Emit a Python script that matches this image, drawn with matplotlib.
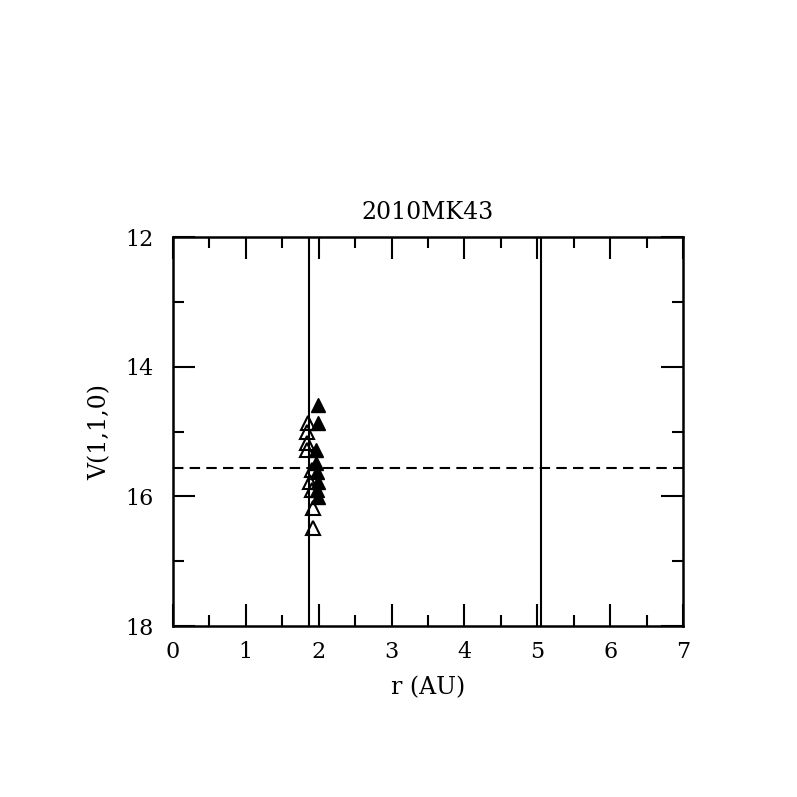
import matplotlib
matplotlib.use("Agg")
import matplotlib.pyplot as plt

title = "2010MK43"
xlabel = "r (AU)"
ylabel = "V(1,1,0)"

# open triangles
open_r = [1.85, 1.84, 1.84, 1.84, 1.91, 1.88, 1.91, 1.92, 1.92]
open_v = [14.87, 15.01, 15.18, 15.29, 15.60, 15.78, 15.90, 16.18, 16.48]
# filled triangles
fill_r = [1.99, 1.99, 1.96, 1.96, 1.97, 1.99, 1.97, 1.99]
fill_v = [14.59, 14.87, 15.29, 15.49, 15.63, 15.78, 15.90, 16.01]

vlines_r = [1.87, 5.05]
hline_v = 15.56

plt.rcParams['font.family'] = ['DejaVu Serif']
fig = plt.figure(figsize=(7.97, 7.97), dpi=100)
ax = fig.add_axes([0.217, 0.2145, 0.640, 0.488])

for xv in vlines_r:
    ax.axvline(xv, color='black', lw=1.5)
ax.axhline(hline_v, color='black', lw=1.5, ls=(0, (5, 3)))

ax.plot(open_r, open_v, ls='none', marker='^', mfc='none', mec='black', mew=1.5, ms=10)
ax.plot(fill_r, fill_v, ls='none', marker='^', mfc='black', mec='black', ms=10)

ax.set_xlim(0, 7)
ax.set_ylim(18, 12)
ax.set_xticks(range(0, 8))
ax.set_xticks([i + 0.5 for i in range(7)], minor=True)
ax.set_yticks([12, 14, 16, 18])
ax.set_yticks([13, 15, 17], minor=True)
ax.tick_params(which='both', direction='in', top=True, right=True, width=1.5, labelsize=16)
ax.tick_params(axis='x', which='major', pad=11)
ax.tick_params(axis='y', which='major', pad=14)
ax.tick_params(which='major', length=16)
ax.tick_params(which='minor', length=8)
for s in ax.spines.values():
    s.set_linewidth(1.8)

ax.set_title(title, fontsize=17, pad=13)
ax.set_xlabel(xlabel, fontsize=17, labelpad=9)
ax.set_ylabel(ylabel, fontsize=17, labelpad=10)

fig.savefig("out.png", dpi=100)
